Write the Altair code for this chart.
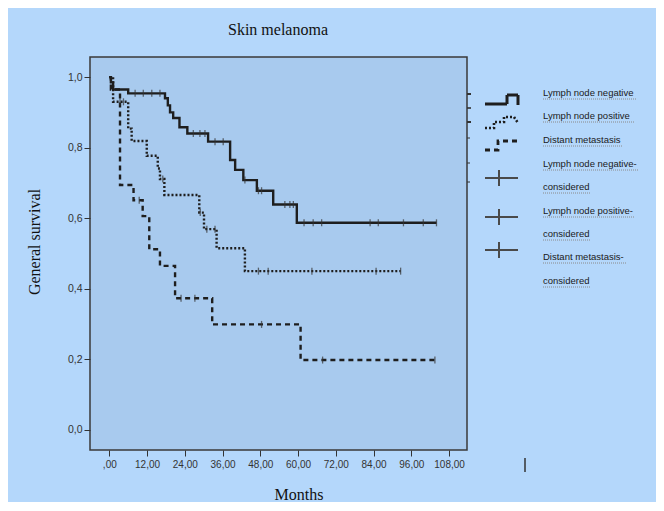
import altair as alt
import pandas as pd

# ---------------- data ----------------
neg_t = [0, 0.5, 1.2, 6.0, 17.7, 18.6, 19.3, 20.3, 22.3, 24.8, 31.4, 38.4, 40.0, 42.6, 46.9, 52.1, 59.6, 104.0]
neg_s = [1.0, 0.985, 0.965, 0.954, 0.94, 0.92, 0.90, 0.884, 0.858, 0.84, 0.817, 0.765, 0.737, 0.708, 0.678, 0.639, 0.587, 0.587]
neg_cens_t = [8.2, 10.8, 13.5, 16.1, 26.7, 28.8, 30.4, 33.6, 36.2, 43.1, 47.4, 48.4, 55.8, 57.4, 58.5,
              61.9, 64.8, 67.5, 82.9, 85.5, 93.5, 99.8, 104.0]
neg_cens_s = [0.954, 0.954, 0.954, 0.954, 0.84, 0.84, 0.84, 0.817, 0.817, 0.708, 0.678, 0.678, 0.639, 0.639, 0.639,
              0.587, 0.587, 0.587, 0.587, 0.587, 0.587, 0.587, 0.587]

pos_t = [0, 1.2, 6.0, 7.1, 11.9, 15.4, 16.1, 17.5, 28.6, 30.1, 34.1, 43.1, 92.6]
pos_s = [1.0, 0.93, 0.854, 0.819, 0.777, 0.741, 0.711, 0.666, 0.616, 0.569, 0.515, 0.45, 0.45]
pos_cens_t = [3.4, 4.5, 17.0, 28.9, 31.0, 33.6, 47.4, 50.5, 64.4, 84.8, 92.6]
pos_cens_s = [0.93, 0.93, 0.711, 0.616, 0.569, 0.569, 0.45, 0.45, 0.45, 0.45, 0.45]

dis_t = [0, 0.5, 3.4, 7.7, 10.6, 12.7, 16.1, 20.9, 32.7, 60.8, 103.5]
dis_s = [1.0, 0.965, 0.694, 0.651, 0.606, 0.512, 0.465, 0.373, 0.299, 0.198, 0.198]
dis_cens_t = [9.5, 22.8, 27.2, 48.4, 67.8, 103.5]
dis_cens_s = [0.651, 0.373, 0.373, 0.299, 0.198, 0.198]

groups = ["Lymph node negative", "Lymph node positive", "Distant metastasis"]
x_ticks = [0, 12, 24, 36, 48, 60, 72, 84, 96, 108]
y_ticks = [0.0, 0.2, 0.4, 0.6, 0.8, 1.0]

legend_lines = ["Lymph node negative", "Lymph node positive", "Distant metastasis",
                "Lymph node negative-", "considered", "Lymph node positive-", "considered",
                "Distant metastasis-", "considered"]

title_text = "Skin melanoma"
x_title = "Months"
y_title = "General survival"

# ---------------- tables ----------------
curves = pd.concat([
    pd.DataFrame({"t": neg_t, "s": neg_s, "g": groups[0]}),
    pd.DataFrame({"t": pos_t, "s": pos_s, "g": groups[1]}),
    pd.DataFrame({"t": dis_t, "s": dis_s, "g": groups[2]}),
])
cens = pd.concat([
    pd.DataFrame({"t": neg_cens_t, "s": neg_cens_s}),
    pd.DataFrame({"t": pos_cens_t, "s": pos_cens_s}),
    pd.DataFrame({"t": dis_cens_t, "s": dis_cens_s}),
])

W, H = 377, 393
ink = "#1e1e1e"

xscale = alt.Scale(domain=[-6.14, 113.7], nice=False, zero=False)
yscale = alt.Scale(domain=[-0.057, 1.057], nice=False, zero=False)

xaxis = alt.Axis(values=x_ticks, title=None, grid=False, domain=False,
                 labelExpr="datum.value == 0 ? ',00' : replace(format(datum.value, '.2f'), '.', ',')",
                 tickSize=6, tickColor="#333", labelPadding=3, labelFont="Liberation Sans",
                 labelFontSize=10, labelColor="#333")
yaxis = alt.Axis(values=y_ticks, title=None, grid=False, domain=False,
                 labelExpr="replace(format(datum.value, '.1f'), '.', ',')",
                 tickSize=6, tickColor="#333", labelPadding=2, labelFont="Liberation Sans",
                 labelFontSize=10.5, labelColor="#333")

lines = alt.Chart(curves).mark_line(interpolate="step-after", strokeWidth=2.4, color=ink).encode(
    x=alt.X("t:Q", scale=xscale, axis=xaxis),
    y=alt.Y("s:Q", scale=yscale, axis=yaxis),
    strokeDash=alt.StrokeDash("g:N", scale=alt.Scale(domain=groups, range=[[1, 0], [2, 2], [5, 4]]), legend=None),
    detail="g:N",
)

ticks = alt.Chart(cens).mark_tick(orient="vertical", size=7, thickness=1.3, color="#333").encode(
    x=alt.X("t:Q", scale=xscale),
    y=alt.Y("s:Q", scale=yscale),
)

# ---------------- hand-made legend (pixel space) ----------------
sym_neg = pd.DataFrame({"px": [395, 417, 417, 428, 428], "py": [47, 47, 38, 38, 48], "o": range(5)})
sym_pos = pd.DataFrame({"px": [395, 404, 404, 414, 414, 424, 428], "py": [71, 71, 65, 65, 60, 60, 66], "o": range(7)})
sym_dis = pd.DataFrame({"px": [395, 408, 408, 430], "py": [93, 93, 84, 84], "o": range(4)})

def sym(df, dash, width):
    return alt.Chart(df).mark_line(color=ink, strokeWidth=width, strokeDash=dash).encode(
        x=alt.X("px:Q", scale=None), y=alt.Y("py:Q", scale=None), order="o:Q")

plus_y = [121, 160, 193]
segs = pd.DataFrame({
    "x1": [395, 395, 395, 409, 409, 409],
    "x2": [428, 428, 428, 409, 409, 409],
    "y1": [plus_y[0], plus_y[1], plus_y[2], plus_y[0] - 8, plus_y[1] - 8, plus_y[2] - 8],
    "y2": [plus_y[0], plus_y[1], plus_y[2], plus_y[0] + 8, plus_y[1] + 8, plus_y[2] + 8],
})
plus = alt.Chart(segs).mark_rule(color="#4a4a4a", strokeWidth=2).encode(
    x=alt.X("x1:Q", scale=None), x2="x2:Q", y=alt.Y("y1:Q", scale=None), y2="y2:Q")

edge = pd.DataFrame({"x1": [377, 377, 377, 377, 377, 377, 435], "x2": [381, 381, 381, 380, 380, 380, 435],
                     "y1": [37, 51, 65, 81, 106, 125, 401], "y2": [37, 51, 65, 81, 106, 125, 415],
                     "w": [2, 1.6, 2, 1, 1, 1, 1.5]})
edges = alt.Chart(edge).mark_rule(color="#333").encode(
    x=alt.X("x1:Q", scale=None), x2="x2:Q", y=alt.Y("y1:Q", scale=None), y2="y2:Q",
    strokeWidth=alt.StrokeWidth("w:Q", scale=None))

leg_y = [36, 59, 83, 107, 130, 154, 177, 200, 224]
leg_w = [93, 91, 80, 95, 47, 92, 47, 83, 47]
leg = pd.DataFrame({"txt": legend_lines, "py": leg_y, "uy": [v + 6 for v in leg_y],
                    "ux1": [453] * len(leg_y), "ux2": [453 + w for w in leg_w]})
leg_text = alt.Chart(leg).mark_text(align="left", baseline="middle", font="Liberation Sans",
                                    fontSize=9.5, color="#1a1a1a").encode(
    x=alt.X("ux1:Q", scale=None), y=alt.Y("py:Q", scale=None), text="txt:N")
leg_ul = alt.Chart(leg).mark_rule(color="#8a8a8a", strokeWidth=1, strokeDash=[1, 1]).encode(
    x=alt.X("ux1:Q", scale=None), x2="ux2:Q", y=alt.Y("uy:Q", scale=None), y2="uy:Q")

# ---------------- titles ----------------
t_title = alt.Chart(pd.DataFrame({"txt": [title_text]})).mark_text(
    font="Liberation Serif", fontSize=16, color="#111", baseline="middle").encode(
    x=alt.value(188), y=alt.value(-27), text="txt:N")
t_x = alt.Chart(pd.DataFrame({"txt": [x_title]})).mark_text(
    font="Liberation Serif", fontSize=16, color="#111", baseline="middle").encode(
    x=alt.value(209), y=alt.value(438), text="txt:N")
t_y = alt.Chart(pd.DataFrame({"txt": [y_title]})).mark_text(
    font="Liberation Serif", fontSize=16, color="#111", baseline="middle", angle=270).encode(
    x=alt.value(-55), y=alt.value(185), text="txt:N")

chart = alt.layer(
    lines, ticks, sym(sym_neg, [1, 0], 3), sym(sym_pos, [2, 2], 2.6), sym(sym_dis, [5, 4], 2.8),
    plus, edges, leg_ul, leg_text, t_title, t_x, t_y
).properties(
    width=W, height=H,
    autosize=alt.AutoSizeParams(type="none"),
    padding={"left": 82, "top": 49, "right": 189, "bottom": 52},
    background="#b4d7fb",
).configure_view(
    fill="#a8caee", stroke="#3a3a3a", strokeWidth=1.5,
)

chart.save("out.html", embed_options={"renderer": "svg", "actions": False})
